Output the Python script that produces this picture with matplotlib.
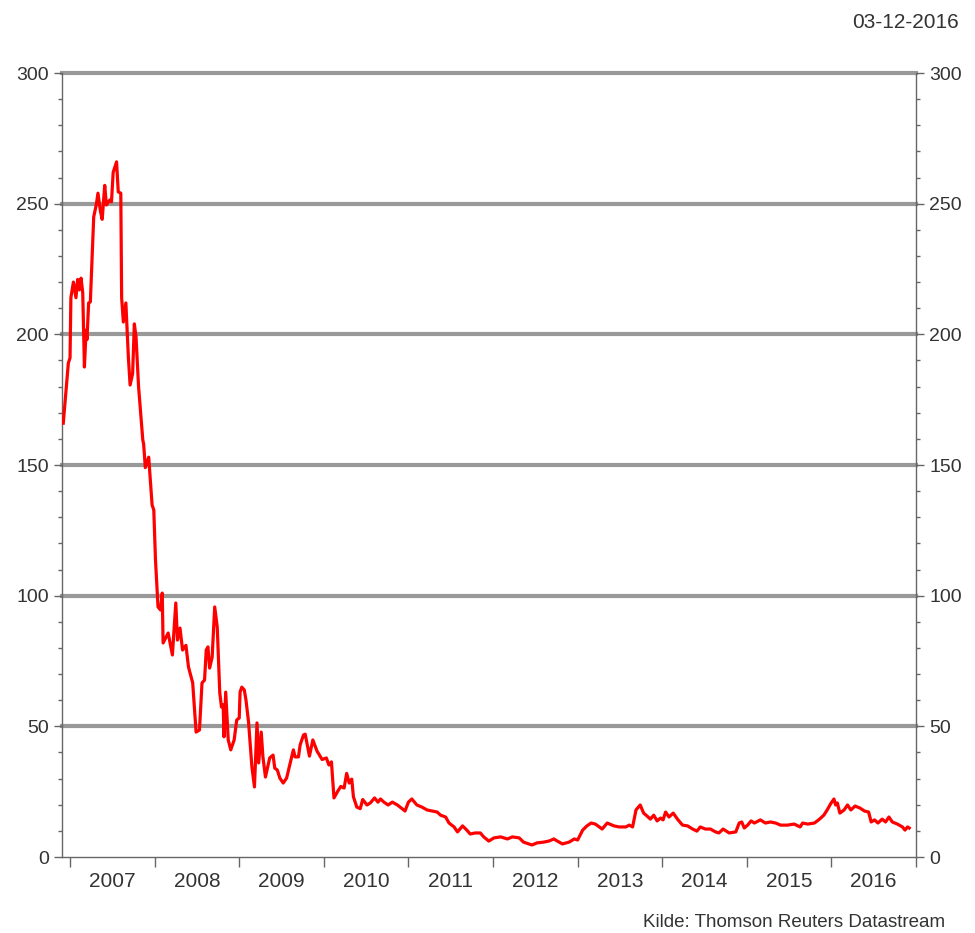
import matplotlib
matplotlib.use("Agg")
import matplotlib.pyplot as plt
from matplotlib.ticker import MultipleLocator, FixedLocator, NullFormatter

plt.rcParams['font.family'] = ['Liberation Sans Narrow', 'Liberation Sans', 'DejaVu Sans']

# decimal year positions
years = [2006.92, 2006.98, 2007.00, 2007.01, 2007.04, 2007.07, 2007.09, 2007.11, 2007.13, 2007.15,
         2007.17, 2007.19, 2007.20, 2007.22, 2007.24, 2007.28, 2007.31, 2007.33, 2007.36, 2007.38,
         2007.41, 2007.43, 2007.47, 2007.49, 2007.51, 2007.55, 2007.57, 2007.60, 2007.61, 2007.63,
         2007.66, 2007.69, 2007.71, 2007.74, 2007.76, 2007.78, 2007.81, 2007.86, 2007.87, 2007.89,
         2007.93, 2007.97, 2007.99, 2008.01, 2008.04, 2008.07, 2008.09, 2008.10, 2008.16, 2008.21,
         2008.25, 2008.27, 2008.30, 2008.33, 2008.37, 2008.40, 2008.45, 2008.49, 2008.53, 2008.56,
         2008.59, 2008.61, 2008.63, 2008.65, 2008.68, 2008.71, 2008.74, 2008.77, 2008.79, 2008.81,
         2008.82, 2008.84, 2008.87, 2008.90, 2008.94, 2008.97, 2009.00, 2009.01, 2009.03, 2009.06,
         2009.08, 2009.11, 2009.15, 2009.18, 2009.21, 2009.23, 2009.26, 2009.28, 2009.31, 2009.36,
         2009.40, 2009.42, 2009.45, 2009.48, 2009.52, 2009.56, 2009.64, 2009.66, 2009.70, 2009.72,
         2009.76, 2009.78, 2009.81, 2009.83, 2009.87, 2009.92, 2009.98, 2010.03, 2010.06, 2010.09,
         2010.12, 2010.16, 2010.20, 2010.24, 2010.27, 2010.30, 2010.33, 2010.35, 2010.39, 2010.43,
         2010.46, 2010.51, 2010.55, 2010.60, 2010.64, 2010.67, 2010.71, 2010.76, 2010.81, 2010.87,
         2010.93, 2010.96, 2011.00, 2011.04, 2011.10, 2011.16, 2011.22, 2011.28, 2011.34, 2011.38,
         2011.44, 2011.48, 2011.54, 2011.58, 2011.64, 2011.69, 2011.73, 2011.79, 2011.85, 2011.89,
         2011.95, 2012.01, 2012.09, 2012.17, 2012.23, 2012.31, 2012.36, 2012.46, 2012.52, 2012.60,
         2012.66, 2012.72, 2012.76, 2012.82, 2012.90, 2012.96, 2013.00, 2013.06, 2013.11, 2013.16,
         2013.21, 2013.29, 2013.35, 2013.43, 2013.49, 2013.57, 2013.61, 2013.65, 2013.69, 2013.74,
         2013.78, 2013.82, 2013.86, 2013.90, 2013.94, 2013.98, 2014.01, 2014.04, 2014.08, 2014.13,
         2014.18, 2014.24, 2014.30, 2014.36, 2014.41, 2014.45, 2014.51, 2014.57, 2014.63, 2014.67,
         2014.72, 2014.79, 2014.87, 2014.91, 2014.94, 2014.97, 2015.01, 2015.05, 2015.09, 2015.16,
         2015.22, 2015.28, 2015.34, 2015.40, 2015.48, 2015.56, 2015.63, 2015.66, 2015.72, 2015.80,
         2015.86, 2015.91, 2015.95, 2015.99, 2016.03, 2016.05, 2016.07, 2016.10, 2016.15, 2016.19,
         2016.23, 2016.28, 2016.34, 2016.39, 2016.44, 2016.47, 2016.51, 2016.55, 2016.60, 2016.64,
         2016.68, 2016.72, 2016.78, 2016.84, 2016.87, 2016.90, 2016.92]

values = [166, 189, 191, 214, 220, 214, 221, 217, 221.5, 216,
          187.5, 201.6, 198, 212, 212.4, 245, 249.5, 254, 247, 244,
          257, 249.5, 251.4, 250.7, 262, 266, 254.5, 254, 214, 204.7,
          212, 191, 180.6, 185, 204, 199, 180, 159.6, 158, 149,
          153, 134.7, 132.8, 113.7, 95.7, 94.5, 101, 81.9, 85.7, 77.3,
          97.2, 83, 87.6, 79.2, 81, 72.7, 66.6, 47.8, 48.6, 66.6,
          67.7, 79.2, 80.4, 72.3, 76.5, 95.7, 88, 62.8, 57.4, 58.2,
          46, 63.1, 44.8, 41, 44.8, 52.4, 53.2, 63.1, 65, 63.9,
          60, 51.7, 34.4, 26.8, 51.3, 36, 47.8, 38.3, 30.6, 37.9,
          39, 34, 33.3, 30.2, 28.3, 30.2, 41, 38.3, 38.3, 42.9,
          46.7, 47, 42, 38.6, 44.8, 40.5, 37.3, 37.9, 35.2, 36.4,
          22.6, 24.9, 27, 26.4, 32, 28.3, 29.8, 23, 19.1, 18.5,
          22, 19.9, 20.7, 22.6, 21, 22.2, 21, 19.9, 21, 19.9,
          18.4, 17.6, 21, 22.2, 19.9, 19.1, 18, 17.6, 17.2, 16,
          15.3, 13, 11.5, 9.6, 11.9, 10.3, 8.8, 9.2, 9.2, 7.7,
          6.1, 7.3, 7.7, 6.9, 7.7, 7.3, 5.7, 4.6, 5.4, 5.7,
          6.1, 6.9, 6.1, 5, 5.7, 6.9, 6.5, 10.3, 11.9, 13,
          12.6, 10.7, 13, 11.9, 11.5, 11.5, 12.2, 11.5, 18, 19.9,
          16.8, 15.7, 14.5, 16, 13.8, 14.9, 14.2, 17.2, 15.3, 16.8,
          14.5, 12.2, 11.9, 10.7, 9.9, 11.5, 10.7, 10.7, 9.6, 9.2,
          10.7, 9.2, 9.6, 13, 13.4, 11.1, 12.2, 13.8, 13, 14.2,
          13, 13.4, 13, 12.2, 12.2, 12.6, 11.5, 13, 12.6, 13,
          14.5, 16, 18, 20.3, 22.2, 19.9, 20.7, 16.8, 18, 19.9,
          18, 19.5, 18.7, 17.6, 17.2, 13.4, 14.2, 13, 14.5, 13.4,
          15.3, 13.4, 12.6, 11.5, 10.3, 11.5, 11.1]

year_labels = [str(y) for y in range(2007, 2017)]
date_text = "03-12-2016"
source_text = "Kilde: Thomson Reuters Datastream"

fig = plt.figure(figsize=(9.75, 9.33), dpi=100)
ax = fig.add_axes([62 / 975, 1 - 857 / 933, (916 - 62) / 975, (857 - 73) / 933])

# grid lines at major y levels
for lvl in range(50, 301, 50):
    ax.axhline(lvl, color='#999999', lw=3, zorder=1, clip_on=False)

ax.plot(years, values, color='#ff0000', lw=2.3, zorder=3)

ax.set_xlim(2006.905, 2017.0)
ax.set_ylim(0, 300)

ax.spines['top'].set_visible(False)
for s in ['left', 'right', 'bottom']:
    ax.spines[s].set_color('#666666')
    ax.spines[s].set_linewidth(1.0)

ax.yaxis.set_major_locator(MultipleLocator(50))
ax.yaxis.set_minor_locator(MultipleLocator(10))
ax.tick_params(axis='y', which='major', direction='out', length=6, width=1, color='#666666',
               labelsize=14, labelcolor='#333333', left=True, right=True, labelleft=True, labelright=True)
ax.tick_params(axis='y', which='minor', direction='out', length=3, width=1, color='#666666',
               left=True, right=True)

ax.xaxis.set_major_locator(FixedLocator(range(2007, 2018)))
ax.xaxis.set_major_formatter(NullFormatter())
ax.xaxis.set_minor_locator(FixedLocator([y + 0.5 for y in range(2007, 2017)]))
ax.set_xticklabels(year_labels, minor=True)
ax.tick_params(axis='x', which='minor', length=0, pad=11, labelsize=15, labelcolor='#333333')
ax.tick_params(axis='x', which='major', direction='out', length=7, width=1, color='#666666')

fig.text(959 / 975, 1 - 28 / 933, date_text, ha='right', va='baseline', fontsize=15, color='#333333')
fig.text(945 / 975, 1 - 927 / 933, source_text, ha='right', va='baseline', fontsize=13.5, color='#333333')

fig.savefig('out.png', dpi=100)
